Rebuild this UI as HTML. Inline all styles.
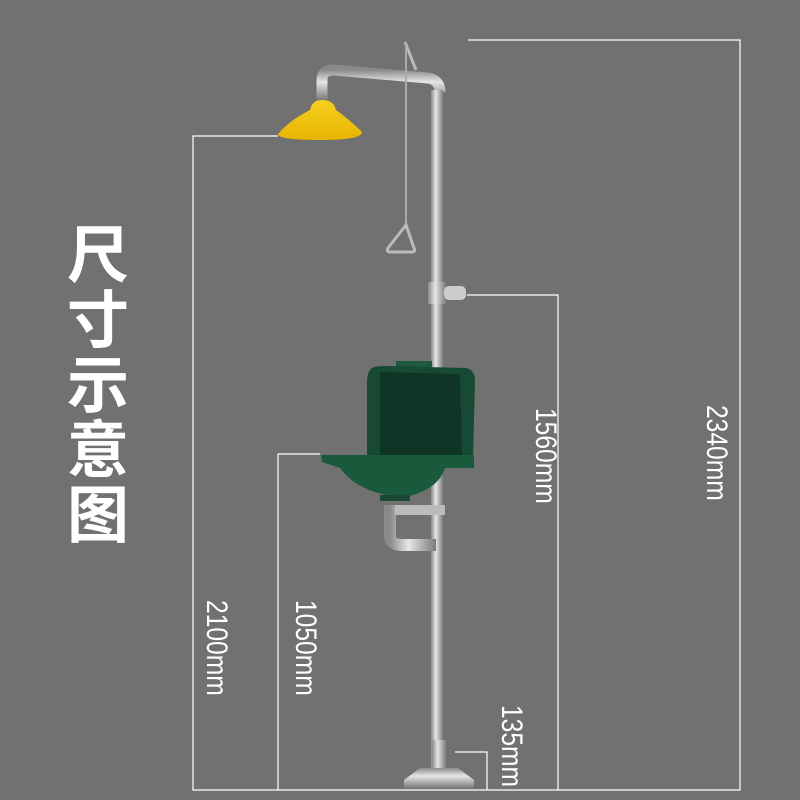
<!DOCTYPE html>
<html><head><meta charset="utf-8"><style>
html,body{margin:0;padding:0;background:#717171;}
#c{position:relative;width:800px;height:800px;overflow:hidden;background:#717171;}
.t{position:absolute;left:66px;top:218px;width:64px;font:bold 62px/65px "Noto Sans CJK SC",sans-serif;color:#fff;text-align:center;}
.l{position:absolute;color:#fff;font:30px "Liberation Sans",sans-serif;transform-origin:0 0;white-space:nowrap;}
</style></head><body><div id="c">
<svg width="800" height="800" style="position:absolute;left:0;top:0">
<defs>
<linearGradient id="pipe" x1="0" x2="1"><stop offset="0" stop-color="#8a8a8a"/><stop offset=".4" stop-color="#e6e6e6"/><stop offset="1" stop-color="#7a7a7a"/></linearGradient>
<linearGradient id="pipeh" x1="0" y1="0" x2="0" y2="1"><stop offset="0" stop-color="#8a8a8a"/><stop offset=".4" stop-color="#e6e6e6"/><stop offset="1" stop-color="#7a7a7a"/></linearGradient>
<linearGradient id="yel" x1="0" y1="0" x2="0" y2="1"><stop offset="0" stop-color="#f5d020"/><stop offset="1" stop-color="#e8b400"/></linearGradient>
</defs>
<g stroke="#fff" stroke-width="1.2" fill="none">
<polyline points="468,40 740,40 740,790 193,790 193,136 278,136"/>
<polyline points="320,454 278,454 278,790"/>
<polyline points="467,295 558,295 558,790"/>
<polyline points="455,752 487,752 487,790"/>
</g>
<path d="M322,100 L322,80 Q322,70 334,70 L428,78 Q440,80 440,92" stroke="url(#pipeh)" stroke-width="11" fill="none"/>
<rect x="431" y="90" width="12" height="680" fill="url(#pipe)"/>
<rect x="428" y="282" width="18" height="22" fill="url(#pipe)"/>
<rect x="444" y="286" width="22" height="14" rx="5" fill="#ccc"/>
<path d="M405,42 L416,70" stroke="#bbb" stroke-width="3"/>
<line x1="406" y1="42" x2="406" y2="225" stroke="#aaa" stroke-width="2"/>
<path d="M406,225 L388,248 Q386,252 390,252 L412,252 Q416,252 414,248 Z" stroke="#bbb" stroke-width="3" fill="none"/>
<path d="M310,110 Q312,100 322,100 Q334,100 336,110 Q350,120 362,132 Q362,140 320,140 Q278,140 278,134 Q290,120 310,110 Z" fill="url(#yel)"/>
<path d="M390,505 L390,535 Q390,545 402,545 L436,545" stroke="url(#pipe)" stroke-width="12" fill="none"/>
<rect x="395" y="505" width="50" height="10" fill="#bbb"/>
<rect x="396" y="361" width="36" height="8" fill="#1f5a3f"/>
<path d="M372,368 Q374,366 386,366 L466,368 Q475,370 475,380 L473,460 L367,460 L367,382 Q367,372 372,368 Z" fill="#164a34"/>
<path d="M380,372 L460,374 L462,455 L380,455 Z" fill="#0f3526"/>
<path d="M321,455 L474,455 L474,468 L445,468 Q438,490 405,497 Q360,495 340,468 L322,462 Z" fill="#1a5a3c"/>
<rect x="380" y="495" width="30" height="6" fill="#1a4a34"/>
<rect x="432" y="740" width="14" height="30" fill="url(#pipe)"/>
<path d="M420,768 L458,768 L474,780 L474,788 L404,788 L404,780 Z" fill="url(#pipeh)"/>
</svg>
<div class="t">尺<br>寸<br>示<br>意<br>图</div>
<div class="l" style="left:733px;top:405px;transform:rotate(90deg) scaleX(.82)">2340mm</div>
<div class="l" style="left:562px;top:408px;transform:rotate(90deg) scaleX(.82)">1560mm</div>
<div class="l" style="left:233px;top:600px;transform:rotate(90deg) scaleX(.82)">2100mm</div>
<div class="l" style="left:322px;top:600px;transform:rotate(90deg) scaleX(.82)">1050mm</div>
<div class="l" style="left:528px;top:705px;transform:rotate(90deg) scaleX(.82)">135mm</div>
</div></body></html>
